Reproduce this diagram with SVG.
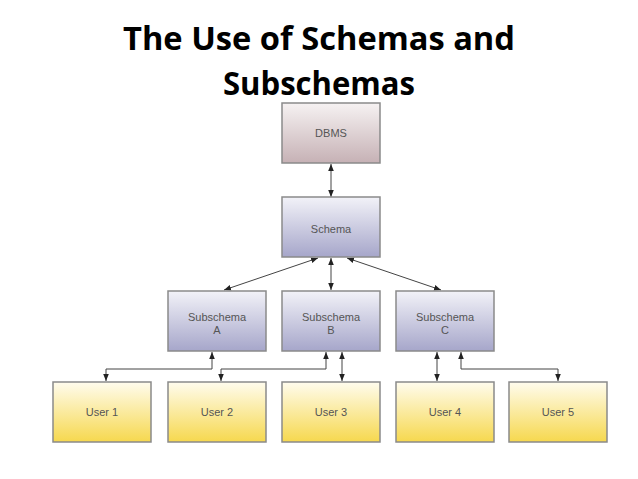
<svg xmlns="http://www.w3.org/2000/svg" width="638" height="479" viewBox="0 0 638 479">
  <style>
    .title { font-family: "Open Sans", "Liberation Sans", sans-serif; font-weight: 700; font-size: 33px; fill: #000; }
    .lbl { font-family: "Liberation Sans", Arial, sans-serif; font-size: 11px; fill: #555; text-anchor: middle; }
    .box { stroke: #8a8a8a; stroke-width: 1.5; }
    .conn { fill: none; stroke: #444; stroke-width: 1; }
  </style>
  <defs>
    <linearGradient id="gDbms" x1="0" y1="0" x2="0" y2="1">
      <stop offset="0" stop-color="#f6f2f2"/>
      <stop offset="1" stop-color="#c6b1b5"/>
    </linearGradient>
    <linearGradient id="gSchema" x1="0" y1="0" x2="0" y2="1">
      <stop offset="0" stop-color="#f2f2f8"/>
      <stop offset="1" stop-color="#a6a6ca"/>
    </linearGradient>
    <linearGradient id="gUser" x1="0" y1="0" x2="0" y2="1">
      <stop offset="0" stop-color="#fffcee"/>
      <stop offset="1" stop-color="#f6d84e"/>
    </linearGradient>
    <marker id="ah" viewBox="0 0 10 10" refX="10" refY="5" markerWidth="7" markerHeight="7" orient="auto-start-reverse" markerUnits="userSpaceOnUse">
      <path d="M0,1 L10,5 L0,9 Z" fill="#222"/>
    </marker>
  </defs>

  <text class="title" x="319" y="50" text-anchor="middle" textLength="392" lengthAdjust="spacingAndGlyphs">The Use of Schemas and</text>
  <text class="title" x="319" y="95" text-anchor="middle" textLength="192" lengthAdjust="spacingAndGlyphs">Subschemas</text>

  <g id="connectors">
    <line class="conn" x1="331" y1="164" x2="331" y2="197" marker-start="url(#ah)" marker-end="url(#ah)"/>
    <line class="conn" x1="318" y1="258" x2="224" y2="290" marker-start="url(#ah)" marker-end="url(#ah)"/>
    <line class="conn" x1="331" y1="258" x2="331" y2="290" marker-start="url(#ah)" marker-end="url(#ah)"/>
    <line class="conn" x1="347" y1="258" x2="441" y2="290" marker-start="url(#ah)" marker-end="url(#ah)"/>
    <polyline class="conn" points="212,352 212,369 106,369 106,381" marker-start="url(#ah)" marker-end="url(#ah)"/>
    <polyline class="conn" points="326,352 326,369 221,369 221,381" marker-start="url(#ah)" marker-end="url(#ah)"/>
    <line class="conn" x1="342" y1="352" x2="342" y2="381" marker-start="url(#ah)" marker-end="url(#ah)"/>
    <line class="conn" x1="437" y1="352" x2="437" y2="381" marker-start="url(#ah)" marker-end="url(#ah)"/>
    <polyline class="conn" points="461,352 461,369 558,369 558,381" marker-start="url(#ah)" marker-end="url(#ah)"/>
  </g>

  <g id="dbms">
    <rect class="box" x="282" y="103" width="98" height="60" fill="url(#gDbms)"/>
    <text class="lbl" x="331" y="137">DBMS</text>
  </g>
  <g id="schema">
    <rect class="box" x="282" y="197" width="98" height="60" fill="url(#gSchema)"/>
    <text class="lbl" x="331" y="233">Schema</text>
  </g>
  <g id="subschemaA">
    <rect class="box" x="168" y="291" width="98" height="60" fill="url(#gSchema)"/>
    <text class="lbl" x="217" y="321">Subschema</text>
    <text class="lbl" x="217" y="334">A</text>
  </g>
  <g id="subschemaB">
    <rect class="box" x="282" y="291" width="98" height="60" fill="url(#gSchema)"/>
    <text class="lbl" x="331" y="321">Subschema</text>
    <text class="lbl" x="331" y="334">B</text>
  </g>
  <g id="subschemaC">
    <rect class="box" x="396" y="291" width="98" height="60" fill="url(#gSchema)"/>
    <text class="lbl" x="445" y="321">Subschema</text>
    <text class="lbl" x="445" y="334">C</text>
  </g>
  <g id="user1">
    <rect class="box" x="53" y="382" width="98" height="60" fill="url(#gUser)"/>
    <text class="lbl" x="102" y="416">User 1</text>
  </g>
  <g id="user2">
    <rect class="box" x="168" y="382" width="98" height="60" fill="url(#gUser)"/>
    <text class="lbl" x="217" y="416">User 2</text>
  </g>
  <g id="user3">
    <rect class="box" x="282" y="382" width="98" height="60" fill="url(#gUser)"/>
    <text class="lbl" x="331" y="416">User 3</text>
  </g>
  <g id="user4">
    <rect class="box" x="396" y="382" width="98" height="60" fill="url(#gUser)"/>
    <text class="lbl" x="445" y="416">User 4</text>
  </g>
  <g id="user5">
    <rect class="box" x="509" y="382" width="98" height="60" fill="url(#gUser)"/>
    <text class="lbl" x="558" y="416">User 5</text>
  </g>
</svg>
